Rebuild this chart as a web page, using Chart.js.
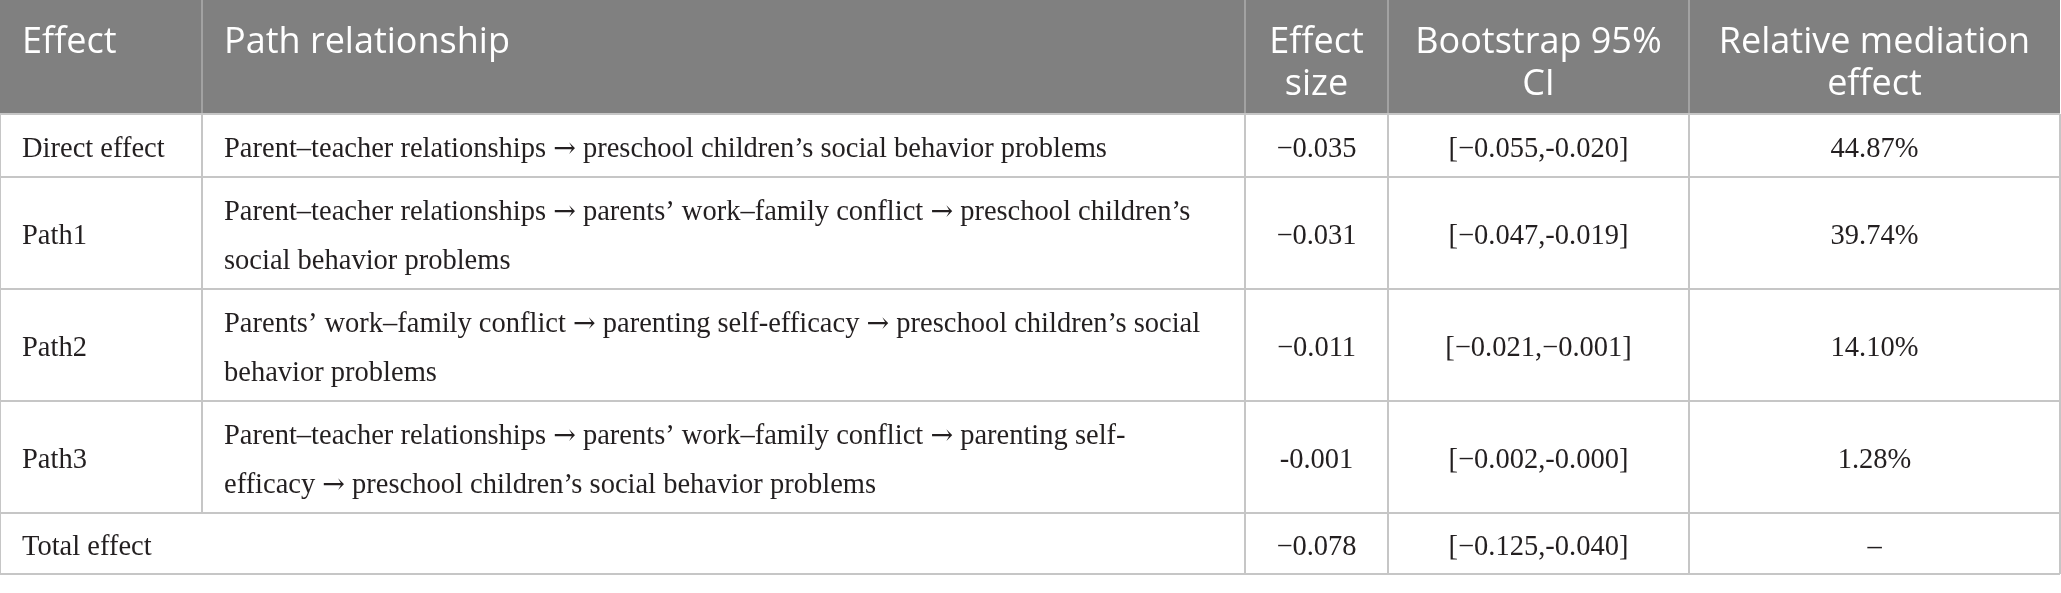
<!DOCTYPE html>
<html>
<head>
<meta charset="utf-8">
<script src="https://cdn.jsdelivr.net/npm/chart.js@4.4.0/dist/chart.umd.min.js"></script>
<style>
  html, body { margin: 0; padding: 0; background: #fff; }
  .chartContainer { width: 2061px; height: 593px; }
</style>
</head>
<body>
<div class="chartContainer"><canvas id="myChart"></canvas></div>
<script>
// table content
const headers = ['Effect', 'Path relationship', 'Effect\nsize', 'Bootstrap 95%\nCI', 'Relative mediation\neffect'];
const effects = ['Direct effect', 'Path1', 'Path2', 'Path3', 'Total effect'];
const paths = [
  'Parent\u2013teacher relationships \u2192 preschool children\u2019s social behavior problems',
  'Parent\u2013teacher relationships \u2192 parents\u2019 work\u2013family conflict \u2192 preschool children\u2019s\nsocial behavior problems',
  'Parents\u2019 work\u2013family conflict \u2192 parenting self-efficacy \u2192 preschool children\u2019s social\nbehavior problems',
  'Parent\u2013teacher relationships \u2192 parents\u2019 work\u2013family conflict \u2192 parenting self-\nefficacy \u2192 preschool children\u2019s social behavior problems',
  ''
];
const effectSizes = ['\u22120.035', '\u22120.031', '\u22120.011', '-0.001', '\u22120.078'];
const bootstrapCI = ['[\u22120.055,-0.020]', '[\u22120.047,-0.019]', '[\u22120.021,\u22120.001]', '[\u22120.002,-0.000]', '[\u22120.125,-0.040]'];
const relativeEffects = ['44.87%', '39.74%', '14.10%', '1.28%', '\u2013'];

// layout, in scale units (x: 0..2061, y: 0..593 top-down)
const colEdges = [0, 202, 1245, 1388, 1689, 2060];
const rowEdges = [0, 114, 177, 289, 401, 513, 574];
const colAlign = ['left', 'left', 'center', 'center', 'center'];

const bodyFont = '28.5px "Liberation Serif"';
const arrowFont = '27px "DejaVu Serif"';

// draws a left-aligned line, giving the arrows a bolder glyph
function drawLine(ctx, text, x, y) {
  const parts = text.split('\u2192');
  let cx = x;
  parts.forEach((p, i) => {
    ctx.font = bodyFont;
    ctx.fillText(p, cx, y);
    cx += ctx.measureText(p).width;
    if (i < parts.length - 1) {
      ctx.font = arrowFont;
      ctx.fillText('\u2192', cx, y);
      cx += ctx.measureText('\u2192').width;
    }
  });
  ctx.font = bodyFont;
}

const tablePlugin = {
  id: 'tablePlugin',
  afterDraw(chart) {
    const ctx = chart.ctx;
    const xs = chart.scales.x, ys = chart.scales.y;
    const X = v => xs.getPixelForValue(v);
    const Y = v => ys.getPixelForValue(v);
    const nCols = colEdges.length - 1;
    const nRows = effects.length;

    ctx.save();
    // header background
    ctx.fillStyle = '#808080';
    ctx.fillRect(X(colEdges[0]), Y(rowEdges[0]), X(colEdges[nCols]) - X(colEdges[0]), Y(rowEdges[1]) - Y(rowEdges[0]));

    // header separators
    ctx.strokeStyle = '#a2a2a2';
    ctx.lineWidth = 2;
    for (let c = 1; c < nCols; c++) {
      ctx.beginPath();
      ctx.moveTo(X(colEdges[c]), Y(rowEdges[0]));
      ctx.lineTo(X(colEdges[c]), Y(rowEdges[1]));
      ctx.stroke();
    }

    // body grid
    ctx.strokeStyle = '#c6c6c6';
    ctx.lineWidth = 2;
    for (let r = 1; r <= nRows + 1; r++) {
      ctx.beginPath();
      ctx.moveTo(X(colEdges[0]), Y(rowEdges[r]));
      ctx.lineTo(X(colEdges[nCols]), Y(rowEdges[r]));
      ctx.stroke();
    }
    for (let c = 0; c <= nCols; c++) {
      // last row: first two columns are merged
      const bottom = c === 1 ? rowEdges[nRows] : rowEdges[nRows + 1];
      ctx.beginPath();
      ctx.moveTo(X(colEdges[c]), Y(rowEdges[1]));
      ctx.lineTo(X(colEdges[c]), Y(bottom));
      ctx.stroke();
    }

    const pad = 22;
    const cellX = c => colAlign[c] === 'left' ? X(colEdges[c]) + pad : (X(colEdges[c]) + X(colEdges[c + 1])) / 2;

    // header text
    ctx.fillStyle = '#ffffff';
    ctx.font = '36px "Open Sans"';
    ctx.textBaseline = 'alphabetic';
    headers.forEach((h, c) => {
      ctx.textAlign = colAlign[c];
      h.split('\n').forEach((line, i) => {
        ctx.fillText(line, cellX(c), Y(rowEdges[0]) + 53 + i * 42);
      });
    });

    // body text
    ctx.fillStyle = '#231f20';
    ctx.font = bodyFont;
    ctx.textBaseline = 'middle';
    const columns = [effects, paths, effectSizes, bootstrapCI, relativeEffects];
    const lh = 49;
    for (let r = 0; r < nRows; r++) {
      const top = Y(rowEdges[r + 1]), bot = Y(rowEdges[r + 2]);
      const mid = (top + bot) / 2 + 4;
      columns.forEach((col, c) => {
        const lines = col[r].split('\n');
        ctx.textAlign = colAlign[c];
        lines.forEach((line, i) => {
          const y = mid + (i - (lines.length - 1) / 2) * lh;
          if (colAlign[c] === 'left') drawLine(ctx, line, cellX(c), y);
          else ctx.fillText(line, cellX(c), y);
        });
      });
    }
    ctx.restore();
  }
};

new Chart(document.getElementById('myChart'), {
  type: 'scatter',
  data: { datasets: [{ data: [] }] },
  options: {
    responsive: true,
    maintainAspectRatio: false,
    animation: false,
    layout: { padding: 0 },
    plugins: { legend: { display: false }, tooltip: { enabled: false } },
    scales: {
      x: { type: 'linear', min: 0, max: 2061, display: false },
      y: { type: 'linear', min: 0, max: 593, reverse: true, display: false }
    }
  },
  plugins: [tablePlugin]
});
</script>
</body>
</html>
